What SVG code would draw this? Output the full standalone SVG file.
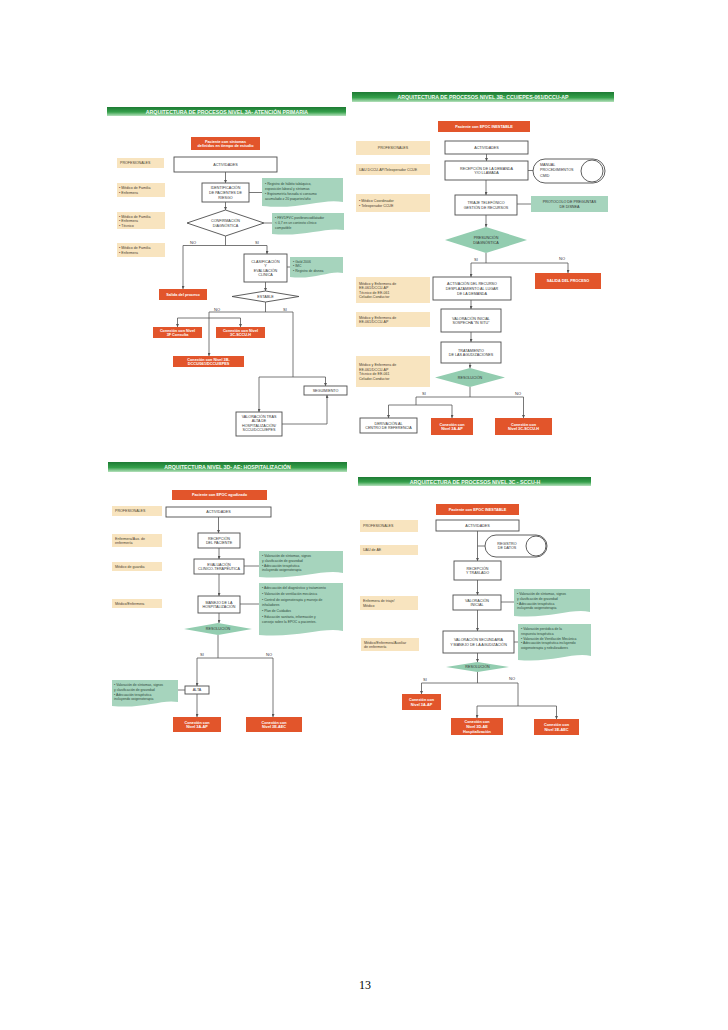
<svg xmlns="http://www.w3.org/2000/svg" width="728" height="1030" viewBox="0 0 728 1030">
<defs>
<linearGradient id="hg" x1="0" y1="0" x2="0" y2="1">
<stop offset="0" stop-color="#1d7a33"/><stop offset="0.55" stop-color="#35a04b"/><stop offset="1" stop-color="#b5e1bc"/>
</linearGradient>
<marker id="a" viewBox="0 0 6 6" markerWidth="3" markerHeight="3" refX="6" refY="3" orient="auto" markerUnits="userSpaceOnUse"><path d="M0,0L6,3L0,6z" fill="#555"/></marker>
<style>
.hd{fill:url(#hg)}
.ht{font:bold 5.2px "Liberation Sans",sans-serif;fill:#f4fbf4;text-anchor:middle}
.rd{fill:#e2552b}
.rt{font:bold 3.8px "Liberation Sans",sans-serif;fill:#fff;text-anchor:middle}
.bg{fill:#f8e4bf}
.bt{font:3.6px "Liberation Sans",sans-serif;fill:#4a4030}
.bc{text-anchor:middle}
.bx{fill:#fff;stroke:#4d4d4d;stroke-width:0.9}
.t{font:3.7px "Liberation Sans",sans-serif;fill:#333;text-anchor:middle}
.nt{fill:#a6d4bd}
.ntt{font:3.4px "Liberation Sans",sans-serif;fill:#2f4a3c}
.gd{fill:#93cdb0}
.ln{fill:none;stroke:#555;stroke-width:0.8}
.ar{marker-end:url(#a)}
.lb{font:4px "Liberation Sans",sans-serif;fill:#333}
.pg{font:12px "Liberation Serif",serif;fill:#000;text-anchor:middle}
</style>
</defs>
<rect width="728" height="1030" fill="#fff"/>

<!-- ================= PANEL 1 ================= -->
<g id="p1-header"><rect class="hd" x="107" y="107" width="239" height="9"/><text class="ht" x="227" y="113.9">ARQUITECTURA DE PROCESOS NIVEL 3A- ATENCIÓN PRIMARIA</text></g>
<g id="p1-start"><rect class="rd" x="191" y="137" width="69" height="13"/><text class="rt" x="225.5" y="142.6">Paciente con síntomas</text><text class="rt" x="225.5" y="147.2">definidos en tiempo de estudio</text></g>
<g id="p1-prof"><rect class="bg" x="117" y="158" width="47" height="10"/><text class="bt" x="120" y="164.4">PROFESIONALES</text></g>
<g id="p1-act"><rect class="bx" x="174" y="157" width="103" height="15"/><text class="t" x="225.5" y="165.9">ACTIVIDADES</text></g>
<g id="p1-b1"><rect class="bg" x="117" y="183" width="48" height="14"/><text class="bt" x="119" y="189">• Médico de Familia</text><text class="bt" x="119" y="193.6">• Enfermera</text></g>
<g id="p1-ident"><rect class="bx" x="202" y="183" width="47" height="19"/><text class="t" x="225.5" y="189.3">IDENTIFICACIÓN</text><text class="t" x="225.5" y="193.9">DE PACIENTES DE</text><text class="t" x="225.5" y="198.5">RIESGO</text></g>
<g id="p1-n1"><path class="nt" d="M262,178H343V202C322,198 302,210 262,206Z"/><text class="ntt" x="265" y="184.5">• Registro de hábito tabáquico,</text><text class="ntt" x="265" y="189.5">  exposición laboral y síntomas</text><text class="ntt" x="265" y="194.5">• Espirometría forzada si consumo</text><text class="ntt" x="265" y="199.5">  acumulado ≥ 20 paquetes/año</text></g>
<g id="p1-b2"><rect class="bg" x="117" y="212" width="48" height="17"/><text class="bt" x="119" y="217.8">• Médico de Familia</text><text class="bt" x="119" y="222.2">• Enfermera</text><text class="bt" x="119" y="226.6">• Técnico</text></g>
<g id="p1-conf"><path class="bx" d="M187,223L225.5,210L264,223L225.5,236Z"/><text class="t" x="225.5" y="222.1">CONFIRMACIÓN</text><text class="t" x="225.5" y="226.7">DIAGNÓSTICA</text></g>
<g id="p1-n2"><path class="nt" d="M272,213H344V230C325,227 305,237 272,234Z"/><text class="ntt" x="275" y="219">• FEV1/FVC postbroncodilatador</text><text class="ntt" x="275" y="224">  &lt; 0,7 en un contexto clínico</text><text class="ntt" x="275" y="229">  compatible</text></g>
<g id="p1-b3"><rect class="bg" x="117" y="243" width="48" height="14"/><text class="bt" x="119" y="249">• Médico de Familia</text><text class="bt" x="119" y="253.6">• Enfermera</text></g>
<g id="p1-salida"><rect class="rd" x="159" y="289" width="48" height="11"/><text class="rt" x="183" y="295.9">Salida del proceso</text></g>
<g id="p1-clas"><rect class="bx" x="244" y="254" width="43" height="28"/><text class="t" x="265.5" y="262.5">CLASIFICACIÓN</text><text class="t" x="265.5" y="267.1">Y</text><text class="t" x="265.5" y="271.7">EVALUACIÓN</text><text class="t" x="265.5" y="276.3">CLÍNICA</text></g>
<g id="p1-n3"><path class="nt" d="M290,257H343V273C330,270 315,280 290,277Z"/><text class="ntt" x="293" y="262.5">• Gold 2006</text><text class="ntt" x="293" y="267">• IMC</text><text class="ntt" x="293" y="271.5">• Registro de disnea</text></g>
<g id="p1-estable"><path class="bx" d="M232,296.5L265.5,291L299,296.5L265.5,302Z"/><text class="t" x="265.5" y="297.9">ESTABLE</text></g>
<g id="p1-c3f"><rect class="rd" x="153" y="327" width="49" height="11"/><text class="rt" x="177.5" y="331.6">Conexión con Nivel</text><text class="rt" x="177.5" y="336.2">3F Consulta</text></g>
<g id="p1-c3c"><rect class="rd" x="216" y="327" width="49" height="11"/><text class="rt" x="240.5" y="331.6">Conexión con Nivel</text><text class="rt" x="240.5" y="336.2">3C-SCCU-H</text></g>
<g id="p1-c3b"><rect class="rd" x="173" y="356" width="71" height="11"/><text class="rt" x="208.5" y="360.6">Conexión con Nivel 3B-</text><text class="rt" x="208.5" y="365.2">DCCU/061/DCCU/EPES</text></g>
<g id="p1-seg"><rect class="bx" x="304" y="386" width="43" height="9"/><text class="t" x="325.5" y="391.9">SEGUIMIENTO</text></g>
<g id="p1-val"><rect class="bx" x="236" y="412" width="46" height="24"/><text class="t" x="259" y="417.5">VALORACIÓN TRAS</text><text class="t" x="259" y="422.1">ALTA DE</text><text class="t" x="259" y="426.7">HOSPITALIZACIÓN/</text><text class="t" x="259" y="431.3">SCCU/DCCU/EPES</text></g>
<g id="p1-connectors">
<path class="ln ar" d="M225.5,172V183"/>
<path class="ln ar" d="M225.5,202V210"/>
<path class="ln" d="M249,192.5H262"/>
<path class="ln" d="M264,223H272"/>
<path class="ln" d="M225.5,236V245.5M183,245.5H267"/>
<path class="ln ar" d="M183,245.5V289"/>
<path class="ln ar" d="M267,245.5V254"/>
<path class="ln" d="M287,267H290"/>
<path class="ln ar" d="M265.5,282V291"/>
<path class="ln" d="M265.5,302V312M209,312H293"/>
<path class="ln ar" d="M209,312V356"/>
<path class="ln" d="M177.5,318H240.5"/>
<path class="ln ar" d="M177.5,318V327"/>
<path class="ln ar" d="M240.5,318V327"/>
<path class="ln" d="M293,312V377M259,377H325.5"/>
<path class="ln ar" d="M259,377V412"/>
<path class="ln ar" d="M325.5,377V386"/>
<path class="ln ar" d="M282,424H327V395"/>
<text class="lb" x="190" y="243.5">NO</text><text class="lb" x="255" y="243.5">SI</text>
<text class="lb" x="214" y="310.5">NO</text><text class="lb" x="283" y="310.5">SI</text>
</g>

<!-- ================= PANEL 2 ================= -->
<g id="p2-header"><rect class="hd" x="352" y="92" width="262" height="10"/><text class="ht" x="483" y="99.4">ARQUITECTURA DE PROCESOS NIVEL 3B: CCU/EPES-061/DCCU-AP</text></g>
<g id="p2-start"><rect class="rd" x="438" y="121" width="92" height="11"/><text class="rt" x="484" y="127.9">Paciente con EPOC INESTABLE</text></g>
<g id="p2-prof"><rect class="bg" x="356" y="141" width="74" height="14"/><text class="bt bc" x="393" y="149.4">PROFESIONALES</text></g>
<g id="p2-act"><rect class="bx" x="445" y="141" width="83" height="13"/><text class="t" x="486.5" y="148.9">ACTIVIDADES</text></g>
<g id="p2-b1"><rect class="bg" x="356" y="164" width="74" height="11"/><text class="bt" x="359" y="170.9">UAU DCCU-AP/Teleoperador CCUE</text></g>
<g id="p2-recep"><rect class="bx" x="445" y="161" width="83" height="19"/><text class="t" x="486.5" y="169.6">RECEPCIÓN DE LA DEMANDA</text><text class="t" x="486.5" y="174.2">Y/O LLAMADA</text></g>
<g id="p2-manual"><rect class="bx" x="533" y="159" width="72" height="24" rx="12"/><circle class="bx" cx="592" cy="171" r="11"/><text class="t" x="540" y="165.5" style="text-anchor:start">MANUAL</text><text class="t" x="540" y="171" style="text-anchor:start">PROCEDIMIENTOS</text><text class="t" x="540" y="176.5" style="text-anchor:start">CMID</text></g>
<g id="p2-b2"><rect class="bg" x="356" y="194" width="74" height="18"/><text class="bt" x="359" y="202.1">• Médico Coordinador</text><text class="bt" x="359" y="206.7">• Teleoperador CCUE</text></g>
<g id="p2-triaje"><rect class="bx" x="455" y="195" width="62" height="20"/><text class="t" x="486" y="204.1">TRIAJE TELEFÓNICO</text><text class="t" x="486" y="208.7">GESTIÓN DE RECURSOS</text></g>
<g id="p2-prot"><rect class="nt" x="531" y="196" width="77" height="16"/><text class="t" x="569.5" y="203.1">PROTOCOLO DE PREGUNTAS</text><text class="t" x="569.5" y="207.7">DE DISNEA</text></g>
<g id="p2-pres"><path class="gd" d="M445,240L486,227L527,240L486,253Z"/><text class="t" x="486" y="239.1">PRESUNCIÓN</text><text class="t" x="486" y="243.7">DIAGNÓSTICA</text></g>
<g id="p2-b3"><rect class="bg" x="356" y="277" width="74" height="26"/><text class="bt" x="359" y="284.5">Médico y Enfermera de</text><text class="bt" x="359" y="289.1">EE-061/DCCU-AP</text><text class="bt" x="359" y="293.7">Técnico de EE-061</text><text class="bt" x="359" y="298.3">Celador-Conductor</text></g>
<g id="p2-activ"><rect class="bx" x="433" y="277" width="78" height="23"/><text class="t" x="472" y="285.3">ACTIVACIÓN DEL RECURSO</text><text class="t" x="472" y="289.9">DESPLAZAMIENTO AL LUGAR</text><text class="t" x="472" y="294.5">DE LA DEMANDA</text></g>
<g id="p2-salida"><rect class="rd" x="535" y="273" width="66" height="16"/><text class="rt" x="568" y="282.4">SALIDA DEL PROCESO</text></g>
<g id="p2-b4"><rect class="bg" x="356" y="312" width="74" height="15"/><text class="bt" x="359" y="318.6">Médico y Enfermera de</text><text class="bt" x="359" y="323.2">EE-061/DCCU-AP</text></g>
<g id="p2-valin"><rect class="bx" x="441" y="309" width="60" height="23"/><text class="t" x="471" y="319.6">VALORACIÓN INICIAL</text><text class="t" x="471" y="324.2">SOSPECHA “IN SITU”</text></g>
<g id="p2-trat"><rect class="bx" x="441" y="342" width="60" height="21"/><text class="t" x="471" y="351.6">TRATAMIENTO</text><text class="t" x="471" y="356.2">DE LAS AGUDIZACIONES</text></g>
<g id="p2-b5"><rect class="bg" x="356" y="356" width="74" height="31"/><text class="bt" x="359" y="366">Médico y Enfermera de</text><text class="bt" x="359" y="370.6">EE-061/DCCU-AP</text><text class="bt" x="359" y="375.2">Técnico de EE-061</text><text class="bt" x="359" y="379.8">Celador-Conductor</text></g>
<g id="p2-resol"><path class="gd" d="M435,377.5L470,368L505,377.5L470,387Z"/><text class="t" x="470" y="378.9">RESOLUCIÓN</text></g>
<g id="p2-deriv"><rect class="bx" x="360" y="418" width="57" height="15"/><text class="t" x="388.5" y="424.6">DERIVACIÓN AL</text><text class="t" x="388.5" y="429.2">CENTRO DE REFERENCIA</text></g>
<g id="p2-c3a"><rect class="rd" x="431" y="418" width="42" height="17"/><text class="rt" x="452" y="425.6">Conexión con</text><text class="rt" x="452" y="430.2">Nivel 3A-AP</text></g>
<g id="p2-c3c"><rect class="rd" x="495" y="418" width="57" height="17"/><text class="rt" x="523.5" y="425.6">Conexión con</text><text class="rt" x="523.5" y="430.2">Nivel 3C-SCCU-H</text></g>
<g id="p2-connectors">
<path class="ln ar" d="M486.5,154V161"/>
<path class="ln" d="M528,170.5H533"/>
<path class="ln ar" d="M486,180V195"/>
<path class="ln" d="M517,204H531"/>
<path class="ln ar" d="M486,215V227"/>
<path class="ln" d="M486,253V263M471,263H568"/>
<path class="ln ar" d="M471,263V277"/>
<path class="ln ar" d="M568,263V273"/>
<path class="ln ar" d="M471,300V309"/>
<path class="ln ar" d="M471,332V342"/>
<path class="ln ar" d="M470,363V368"/>
<path class="ln" d="M470,387V397M416,397H523.5M416,397V405M388.5,405H452"/>
<path class="ln ar" d="M388.5,405V418"/>
<path class="ln ar" d="M452,405V418"/>
<path class="ln ar" d="M523.5,397V418"/>
<text class="lb" x="474" y="260.5">SI</text><text class="lb" x="559" y="259.5">NO</text>
<text class="lb" x="422" y="394.5">SI</text><text class="lb" x="515" y="394.5">NO</text>
</g>

<!-- ================= PANEL 3 ================= -->
<g id="p3-header"><rect class="hd" x="108" y="462" width="239" height="10"/><text class="ht" x="227.5" y="469.4">ARQUITECTURA NIVEL 3D- AE: HOSPITALIZACIÓN</text></g>
<g id="p3-start"><rect class="rd" x="172" y="490" width="95" height="10"/><text class="rt" x="219.5" y="496.4">Paciente con EPOC agudizado</text></g>
<g id="p3-prof"><rect class="bg" x="112" y="506" width="50" height="10"/><text class="bt" x="115" y="512.4">PROFESIONALES</text></g>
<g id="p3-act"><rect class="bx" x="166" y="507" width="105" height="10"/><text class="t" x="218.5" y="513.4">ACTIVIDADES</text></g>
<g id="p3-b1"><rect class="bg" x="112" y="534" width="50" height="13"/><text class="bt" x="115" y="539.6">Enfermera/Aux. de</text><text class="bt" x="115" y="544.2">enfermería</text></g>
<g id="p3-recep"><rect class="bx" x="198" y="533" width="42" height="15"/><text class="t" x="219" y="539.6">RECEPCIÓN</text><text class="t" x="219" y="544.2">DEL PACIENTE</text></g>
<g id="p3-b2"><rect class="bg" x="112" y="562" width="50" height="9"/><text class="bt" x="115" y="567.9">Médico de guardia</text></g>
<g id="p3-eval"><rect class="bx" x="194" y="559" width="50" height="15"/><text class="t" x="219" y="565.6">EVALUACIÓN</text><text class="t" x="219" y="570.2">CLÍNICO-TERAPÉUTICA</text></g>
<g id="p3-n1"><path class="nt" d="M259,551H343V573C322,569 300,580 259,577Z"/><text class="ntt" x="262" y="557">• Valoración de síntomas, signos</text><text class="ntt" x="262" y="561.8">  y clasificación de gravedad</text><text class="ntt" x="262" y="566.6">• Adecuación terapéutica</text><text class="ntt" x="262" y="571.4">  incluyendo oxigenoterapia</text></g>
<g id="p3-b3"><rect class="bg" x="112" y="599" width="50" height="9"/><text class="bt" x="115" y="604.9">Médico/Enfermera</text></g>
<g id="p3-manejo"><rect class="bx" x="198" y="596" width="42" height="17"/><text class="t" x="219" y="603.6">MANEJO DE LA</text><text class="t" x="219" y="608.2">HOSPITALIZACIÓN</text></g>
<g id="p3-n2"><path class="nt" d="M259,583H343V631C322,627 300,638 259,635Z"/><text class="ntt" x="262" y="589">• Adecuación del diagnóstico y tratamiento</text><text class="ntt" x="262" y="595">• Valoración de ventilación mecánica</text><text class="ntt" x="262" y="601">• Control de oxigenoterapia y manejo de</text><text class="ntt" x="262" y="606">  inhaladores</text><text class="ntt" x="262" y="612">• Plan de Cuidados</text><text class="ntt" x="262" y="618">• Educación sanitaria, información y</text><text class="ntt" x="262" y="623">  consejo sobre la EPOC a pacientes.</text></g>
<g id="p3-resol"><path class="gd" d="M184,629L218,623L252,629L218,635Z"/><text class="t" x="218" y="630.4">RESOLUCIÓN</text></g>
<g id="p3-n3"><path class="nt" d="M112,680H178V702C161,699 145,709 112,706Z"/><text class="ntt" x="114" y="686">• Valoración de síntomas, signos</text><text class="ntt" x="114" y="690.8">  y clasificación de gravedad</text><text class="ntt" x="114" y="695.6">• Adecuación terapéutica</text><text class="ntt" x="114" y="700.4">  incluyendo oxigenoterapia</text></g>
<g id="p3-alta"><rect class="bx" x="185" y="686" width="24" height="8"/><text class="t" x="197" y="691.4">ALTA</text></g>
<g id="p3-c3a"><rect class="rd" x="173" y="717" width="48" height="15"/><text class="rt" x="197" y="723.6">Conexión con</text><text class="rt" x="197" y="728.2">Nivel 3A-AP</text></g>
<g id="p3-c3e"><rect class="rd" x="246" y="717" width="56" height="15"/><text class="rt" x="274" y="723.6">Conexión con</text><text class="rt" x="274" y="728.2">Nivel 3E-AEC</text></g>
<g id="p3-connectors">
<path class="ln ar" d="M218.5,517V533"/>
<path class="ln ar" d="M219,548V559"/>
<path class="ln" d="M244,566H259"/>
<path class="ln ar" d="M219,574V596"/>
<path class="ln" d="M240,604H259"/>
<path class="ln ar" d="M219,613V623"/>
<path class="ln" d="M218,635V658M197,658H273"/>
<path class="ln ar" d="M197,658V686"/>
<path class="ln" d="M178,690H185"/>
<path class="ln ar" d="M197,694V717"/>
<path class="ln ar" d="M273,658V717"/>
<text class="lb" x="200" y="655.5">SI</text><text class="lb" x="266" y="655.5">NO</text>
</g>

<!-- ================= PANEL 4 ================= -->
<g id="p4-header"><rect class="hd" x="358" y="477" width="233" height="9"/><text class="ht" x="475" y="483.6">ARQUITECTURA DE PROCESOS NIVEL 3C - SCCU-H</text></g>
<g id="p4-start"><rect class="rd" x="436" y="504" width="83" height="11"/><text class="rt" x="477.5" y="510.9">Paciente con EPOC INESTABLE</text></g>
<g id="p4-prof"><rect class="bg" x="360" y="520" width="58" height="12"/><text class="bt" x="363" y="527.4">PROFESIONALES</text></g>
<g id="p4-act"><rect class="bx" x="436" y="520" width="83" height="11"/><text class="t" x="477.5" y="526.9">ACTIVIDADES</text></g>
<g id="p4-b1"><rect class="bg" x="360" y="545" width="58" height="10"/><text class="bt" x="363" y="551.4">UAU de AE</text></g>
<g id="p4-reg"><rect class="bx" x="485" y="535" width="62" height="22" rx="11"/><circle class="bx" cx="536" cy="546" r="10"/><text class="t" x="507" y="544.7">REGISTRO</text><text class="t" x="507" y="549.3">DE DATOS</text></g>
<g id="p4-recep"><rect class="bx" x="454" y="561" width="47" height="19"/><text class="t" x="477.5" y="569.6">RECEPCIÓN</text><text class="t" x="477.5" y="574.2">Y TRASLADO</text></g>
<g id="p4-b2"><rect class="bg" x="360" y="596" width="58" height="14"/><text class="bt" x="363" y="602.1">Enfermera de triaje/</text><text class="bt" x="363" y="606.7">Médico</text></g>
<g id="p4-valin"><rect class="bx" x="453" y="595" width="48" height="15"/><text class="t" x="477" y="601.6">VALORACIÓN</text><text class="t" x="477" y="606.2">INICIAL</text></g>
<g id="p4-n1"><path class="nt" d="M514,589H590V612C571,608 551,619 514,616Z"/><text class="ntt" x="517" y="595">• Valoración de síntomas, signos</text><text class="ntt" x="517" y="599.8">  y clasificación de gravedad</text><text class="ntt" x="517" y="604.6">• Adecuación terapéutica</text><text class="ntt" x="517" y="609.4">  incluyendo oxigenoterapia</text></g>
<g id="p4-b3"><rect class="bg" x="361" y="638" width="58" height="13"/><text class="bt" x="364" y="643.6">Médico/Enfermera/Auxiliar</text><text class="bt" x="364" y="648.2">de enfermería</text></g>
<g id="p4-valsec"><rect class="bx" x="443" y="631" width="71" height="22"/><text class="t" x="478.5" y="641.1">VALORACIÓN SECUNDARIA</text><text class="t" x="478.5" y="645.7">Y MANEJO DE LA AGUDIZACIÓN</text></g>
<g id="p4-n2"><path class="nt" d="M518,624H591V656C573,652 553,663 518,660Z"/><text class="ntt" x="521" y="630">• Valoración periódica de la</text><text class="ntt" x="521" y="634.8">  respuesta terapéutica</text><text class="ntt" x="521" y="639.6">• Valoración de Ventilación Mecánica</text><text class="ntt" x="521" y="644.4">• Adecuación terapéutica incluyendo</text><text class="ntt" x="521" y="649.2">  oxigenoterapia y nebulizadores</text></g>
<g id="p4-resol"><path class="gd" d="M446,667L477.5,662L509,667L477.5,672Z"/><text class="t" x="477.5" y="668.4">RESOLUCIÓN</text></g>
<g id="p4-c3a"><rect class="rd" x="402" y="694" width="39" height="16"/><text class="rt" x="421.5" y="701.1">Conexión con</text><text class="rt" x="421.5" y="705.7">Nivel 3A-AP</text></g>
<g id="p4-c3d"><rect class="rd" x="451" y="718" width="52" height="17"/><text class="rt" x="477" y="723.3">Conexión con</text><text class="rt" x="477" y="727.9">Nivel 3D-AE</text><text class="rt" x="477" y="732.5">Hospitalización</text></g>
<g id="p4-c3e"><rect class="rd" x="534" y="719" width="45" height="16"/><text class="rt" x="556.5" y="726.1">Conexión con</text><text class="rt" x="556.5" y="730.7">Nivel 3E-AEC</text></g>
<g id="p4-connectors">
<path class="ln ar" d="M477.5,531V561"/>
<path class="ln" d="M477.5,546H485"/>
<path class="ln ar" d="M477.5,580V595"/>
<path class="ln" d="M501,602H514"/>
<path class="ln ar" d="M477.5,610V631"/>
<path class="ln" d="M514,642H518"/>
<path class="ln ar" d="M477.5,653V662"/>
<path class="ln" d="M477.5,672V683M421.5,683H518"/>
<path class="ln ar" d="M421.5,683V694"/>
<path class="ln" d="M518,683V706M477,706H556.5"/>
<path class="ln ar" d="M477,706V718"/>
<path class="ln ar" d="M556.5,706V719"/>
<text class="lb" x="423" y="680.5">SI</text><text class="lb" x="509" y="680">NO</text>
</g>

<text class="pg" x="365" y="989">13</text>
</svg>
